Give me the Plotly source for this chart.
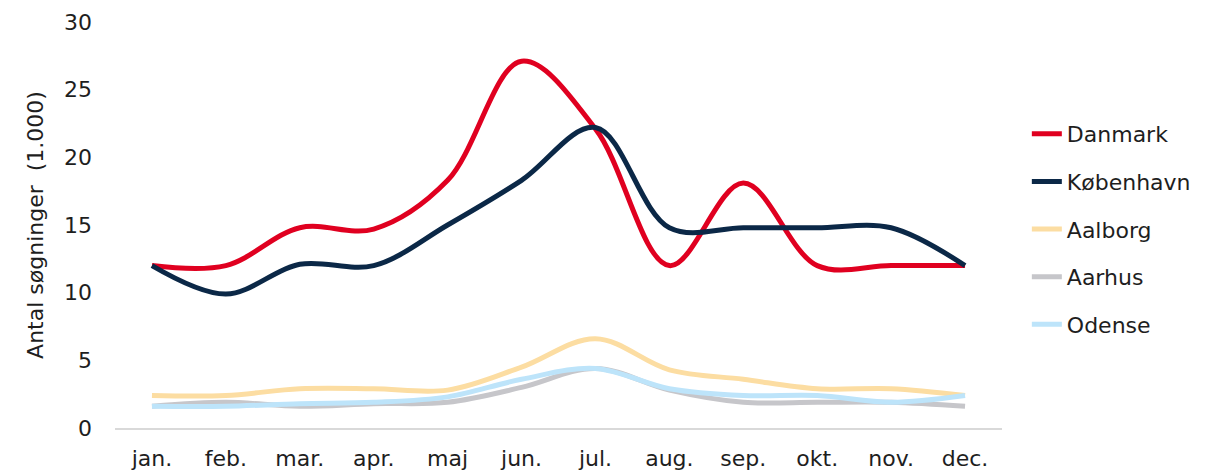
import plotly.graph_objects as go

months = ["jan.", "feb.", "mar.", "apr.", "maj", "jun.", "jul.", "aug.", "sep.", "okt.", "nov.", "dec."]

danmark = [12, 12, 14.8, 14.7, 18.3, 27.1, 22.1, 12, 18.1, 12, 12, 12]
koebenhavn = [12, 9.9, 12.1, 12, 15, 18.3, 22.2, 14.8, 14.8, 14.8, 14.8, 12]
aalborg = [2.4, 2.4, 2.9, 2.9, 2.8, 4.5, 6.6, 4.3, 3.6, 2.9, 2.9, 2.4]
aarhus = [1.6, 1.9, 1.6, 1.8, 1.9, 3.0, 4.4, 2.8, 1.9, 1.9, 1.9, 1.6]
odense = [1.6, 1.6, 1.8, 1.9, 2.3, 3.6, 4.4, 2.9, 2.4, 2.4, 1.9, 2.4]

series = [
    ("Danmark", danmark, "#E00020"),
    ("København", koebenhavn, "#0B2847"),
    ("Aalborg", aalborg, "#FCDDA2"),
    ("Aarhus", aarhus, "#C6C6CA"),
    ("Odense", odense, "#BDE4FA"),
]

font = "'DejaVu Sans', sans-serif"

data = []
for i, (name, vals, col) in enumerate(series):
    data.append(go.Scatter(
        x=months, y=vals, name=name, mode="lines",
        line=dict(color=col, width=5, shape="spline", smoothing=1),
        legendgroup="g%d" % i,
    ))

# the page body has an 8px margin, so the figure is a bit smaller than the window
layout = go.Layout(
    width=1205, height=466,
    margin=dict(l=107, r=211, t=14, b=46),
    paper_bgcolor="white", plot_bgcolor="white",
    font=dict(family=font, size=22, color="#1e1e1e"),
    showlegend=True,
    legend=dict(x=1.028, xanchor="left", y=0.49, yanchor="middle",
                tracegroupgap=16, font=dict(size=22, color="#1e1e1e"),
                bgcolor="rgba(0,0,0,0)"),
    xaxis=dict(type="category", range=[-0.5, 11.5], automargin=False,
               showgrid=False, zeroline=False,
               showline=True, linecolor="#D9D9D9", linewidth=1.5,
               ticks="", ticklabelstandoff=10, tickfont=dict(size=22)),
    yaxis=dict(range=[0, 30], dtick=5, showgrid=False, zeroline=False,
               automargin=False,
               showline=False, ticks="", ticklabelstandoff=22,
               tickfont=dict(size=22),
               title=dict(text="Antal søgninger  (1.000)", standoff=14,
                          font=dict(size=22))),
)

fig = go.Figure(data=data, layout=layout)
fig.write_html("out.html")
